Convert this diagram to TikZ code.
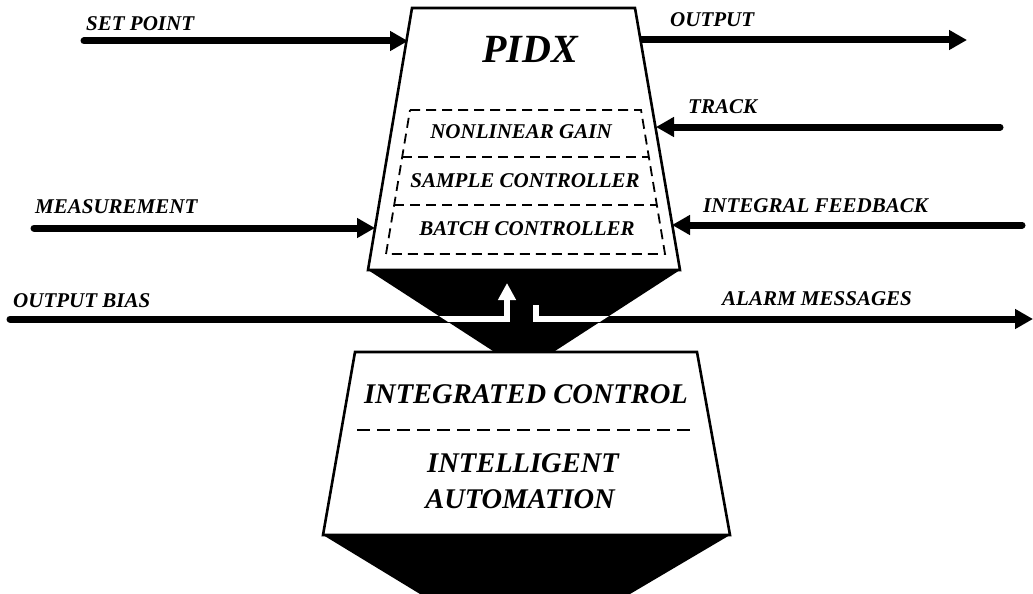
\documentclass[tikz,border=0pt]{standalone}
\usepackage{fontspec}
\setmainfont{Liberation Serif}
\usetikzlibrary{arrows.meta}
\begin{document}
\begin{tikzpicture}[x=1pt,y=-1pt,
  outline/.style={line width=2.6pt, line join=miter, fill=white},
  dashbox/.style={line width=1.8pt, dash pattern=on 10pt off 6pt},
  flow/.style={line width=7pt, line cap=round, line join=miter,
    -{Triangle[length=18pt,width=19pt]}},
  inflow/.style={white, line width=5.5pt, line cap=butt, line join=miter,
    -{Triangle[length=17pt,width=17pt]}},
  lbl/.style={inner sep=0pt, anchor=base west,
    font=\fontsize{21}{24}\selectfont\bfseries\itshape},
  inlbl/.style={inner sep=0pt, anchor=base,
    font=\fontsize{21}{24}\selectfont\bfseries\itshape},
  biglbl/.style={inner sep=0pt, anchor=base,
    font=\fontsize{28.5}{32}\selectfont\bfseries\itshape}]
\useasboundingbox (0,0) rectangle (1033,594);

% corners of the PIDX block and its funnel
\coordinate (pTL) at (412,8);   \coordinate (pTR) at (635,8);
\coordinate (pBR) at (680,270); \coordinate (pBL) at (368,270);
\coordinate (fR) at (555,351);  \coordinate (fL) at (493,351);
% corners of the lower block and its funnel
\coordinate (qTL) at (355,352); \coordinate (qTR) at (697,352);
\coordinate (qBR) at (730,535); \coordinate (qBL) at (323,535);
\coordinate (gR) at (630,594);  \coordinate (gL) at (420,594);

% black funnels
\fill (pBL) -- (pBR) -- (fR) -- (fL) -- cycle;
\fill (qBL) -- (qBR) -- (gR) -- (gL) -- cycle;

% blocks
\draw[outline] (pTL) -- (pTR) -- (pBR) -- (pBL) -- cycle;
\draw[outline] (qTL) -- (qTR) -- (qBR) -- (qBL) -- cycle;

% dashed sub-blocks inside PIDX
\coordinate (dTL) at (410,110); \coordinate (dTR) at (641,110);
\coordinate (dBR) at (665,254); \coordinate (dBL) at (386,254);
\draw[dashbox] (dTL) -- (dTR) -- (dBR) -- (dBL) -- cycle;
\coordinate (s1L) at (402,157); \coordinate (s1R) at (649,157);
\coordinate (s2L) at (394,205); \coordinate (s2R) at (657,205);
\draw[dashbox] (s1L) -- (s1R);
\draw[dashbox] (s2L) -- (s2R);

% dashed divider in the lower block
\coordinate (lL) at (357,430); \coordinate (lR) at (693,430);
\draw[line width=2.6pt, dash pattern=on 13pt off 7pt] (lL) -- (lR);

% texts
\node[inner sep=0pt, anchor=base, font=\fontsize{40}{44}\selectfont\bfseries\itshape]
  (pidx) at (530,63) {PIDX};
\node[inlbl] (nlg) at (521,138) {NONLINEAR GAIN};
\node[inlbl] (smp) at (525,187) {SAMPLE CONTROLLER};
\node[inlbl] (bat) at (527,235) {BATCH CONTROLLER};
\node[biglbl] (ic) at (526,403) {INTEGRATED CONTROL};
\node[biglbl] (ia1) at (523,472) {INTELLIGENT};
\node[biglbl] (ia2) at (520,508) {AUTOMATION};

\node[lbl] (tSP) at (86,31) {SET POINT};
\node[lbl] (tMS) at (35,213) {MEASUREMENT};
\node[lbl] (tOB) at (13,307) {OUTPUT BIAS};
\node[lbl] (tOU) at (670,27) {OUTPUT};
\node[lbl] (tTR) at (688,113) {TRACK};
\node[lbl] (tIF) at (703,212) {INTEGRAL FEEDBACK};
\node[lbl] (tAM) at (722,305) {ALARM MESSAGES};

% signal ends
\coordinate (spS) at (84,41);   \coordinate (spE) at (408,41);
\coordinate (msS) at (34,228);  \coordinate (msE) at (375,228);
\coordinate (ouS) at (640,40);  \coordinate (ouE) at (967,40);
\coordinate (trS) at (1000,127); \coordinate (trE) at (656,127);
\coordinate (ifS) at (1022,225); \coordinate (ifE) at (672,225);
\coordinate (obS) at (10,319);  \coordinate (obK) at (507,319);
\coordinate (obE) at (507,283);
\coordinate (amS) at (536,305); \coordinate (amK) at (536,319);
\coordinate (amE) at (1033,319);

\draw[flow] (spS) -- (spE);
\draw[flow] (msS) -- (msE);
\draw[flow, line cap=butt] (ouS) -- (ouE);
\draw[flow] (trS) -- (trE);
\draw[flow] (ifS) -- (ifE);
\draw[flow] (obS) -- (obK) -- (obE);
\draw[flow, line cap=butt] (amS) -- (amK) -- (amE);

% the same two paths show white where they cross the funnel
\begin{scope}
  \clip (pBL) -- (pBR) -- (fR) -- (fL) -- cycle;
  \draw[inflow] (obS) -- (obK) -- (obE);
  \draw[inflow, -] (amS) -- (amK) -- (amE);
\end{scope}
\end{tikzpicture}
\end{document}
